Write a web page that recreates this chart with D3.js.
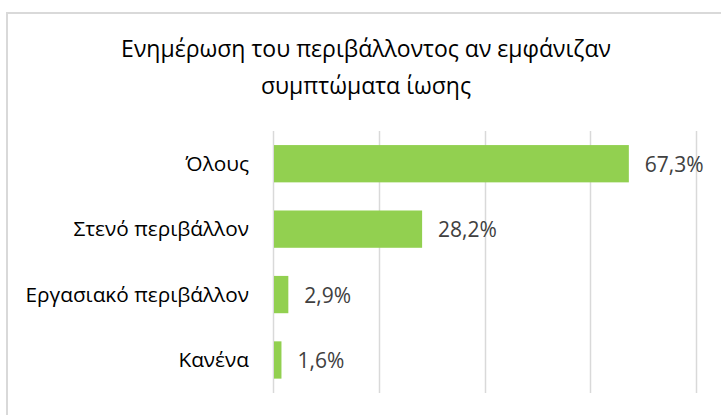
<!DOCTYPE html>
<html lang="el">
<head>
<meta charset="UTF-8">
<title>Ενημέρωση του περιβάλλοντος</title>
<script src="https://d3js.org/d3.v7.min.js"></script>
<style>
    body { margin: 0; background: #fff; }
    text { font-family: "Open Sans", "Noto Sans", sans-serif; }
</style>
</head>
<body>
<svg id="chart" width="721" height="415"></svg>
<script>
const titleLines = ["Ενημέρωση του περιβάλλοντος αν εμφάνιζαν", "συμπτώματα ίωσης"];
const categories = ["Όλους", "Στενό περιβάλλον", "Εργασιακό περιβάλλον", "Κανένα"];
const values = [67.3, 28.2, 2.9, 1.6];
const xTicks = [0, 20, 40, 60, 80];

const svg = d3.select("#chart");
const width = +svg.attr("width");
const height = +svg.attr("height");

// chart frame
svg.append("rect")
    .attr("x", 7).attr("y", 13)
    .attr("width", width + 10).attr("height", height + 10)
    .attr("fill", "none")
    .attr("stroke", "#d9d9d9")
    .attr("stroke-width", 2);

svg.selectAll("text.title")
    .data(titleLines)
    .enter().append("text")
    .attr("class", "title")
    .attr("x", 366)
    .attr("y", (d, i) => 57 + i * 36.5)
    .attr("text-anchor", "middle")
    .attr("font-size", "23px")
    .attr("fill", "#000")
    .text(d => d);

const x = d3.scaleLinear().domain([0, 80]).range([273, 696]);
const y = d3.scaleBand().domain(categories).range([131, 392.7])
    .paddingInner(0.43).paddingOuter(0.215);

svg.append("g")
    .selectAll("line")
    .data(xTicks)
    .enter().append("line")
    .attr("x1", d => Math.round(x(d)) + 0.5)
    .attr("x2", d => Math.round(x(d)) + 0.5)
    .attr("y1", 131).attr("y2", 393)
    .attr("stroke", "#d9d9d9")
    .attr("stroke-width", 1.5);

const data = categories.map((c, i) => ({ cat: c, val: values[i] }));

svg.selectAll("rect.bar")
    .data(data)
    .enter().append("rect")
    .attr("class", "bar")
    .attr("x", x(0) + 1)
    .attr("y", d => y(d.cat))
    .attr("width", d => x(d.val) - x(0) - 1)
    .attr("height", y.bandwidth())
    .attr("fill", "#92d050");

svg.selectAll("text.val")
    .data(data)
    .enter().append("text")
    .attr("class", "val")
    .attr("x", d => x(d.val) + 16)
    .attr("y", d => y(d.cat) + y.bandwidth() / 2)
    .attr("dy", "0.38em")
    .attr("font-size", "21px")
    .attr("fill", "#404040")
    .text(d => d.val.toFixed(1).replace(".", ",") + "%");

svg.selectAll("text.cat")
    .data(data)
    .enter().append("text")
    .attr("class", "cat")
    .attr("x", 249)
    .attr("y", d => y(d.cat) + y.bandwidth() / 2)
    .attr("dy", "0.35em")
    .attr("text-anchor", "end")
    .attr("font-size", "20.8px")
    .attr("fill", "#000")
    .text(d => d.cat);
</script>
</body>
</html>
